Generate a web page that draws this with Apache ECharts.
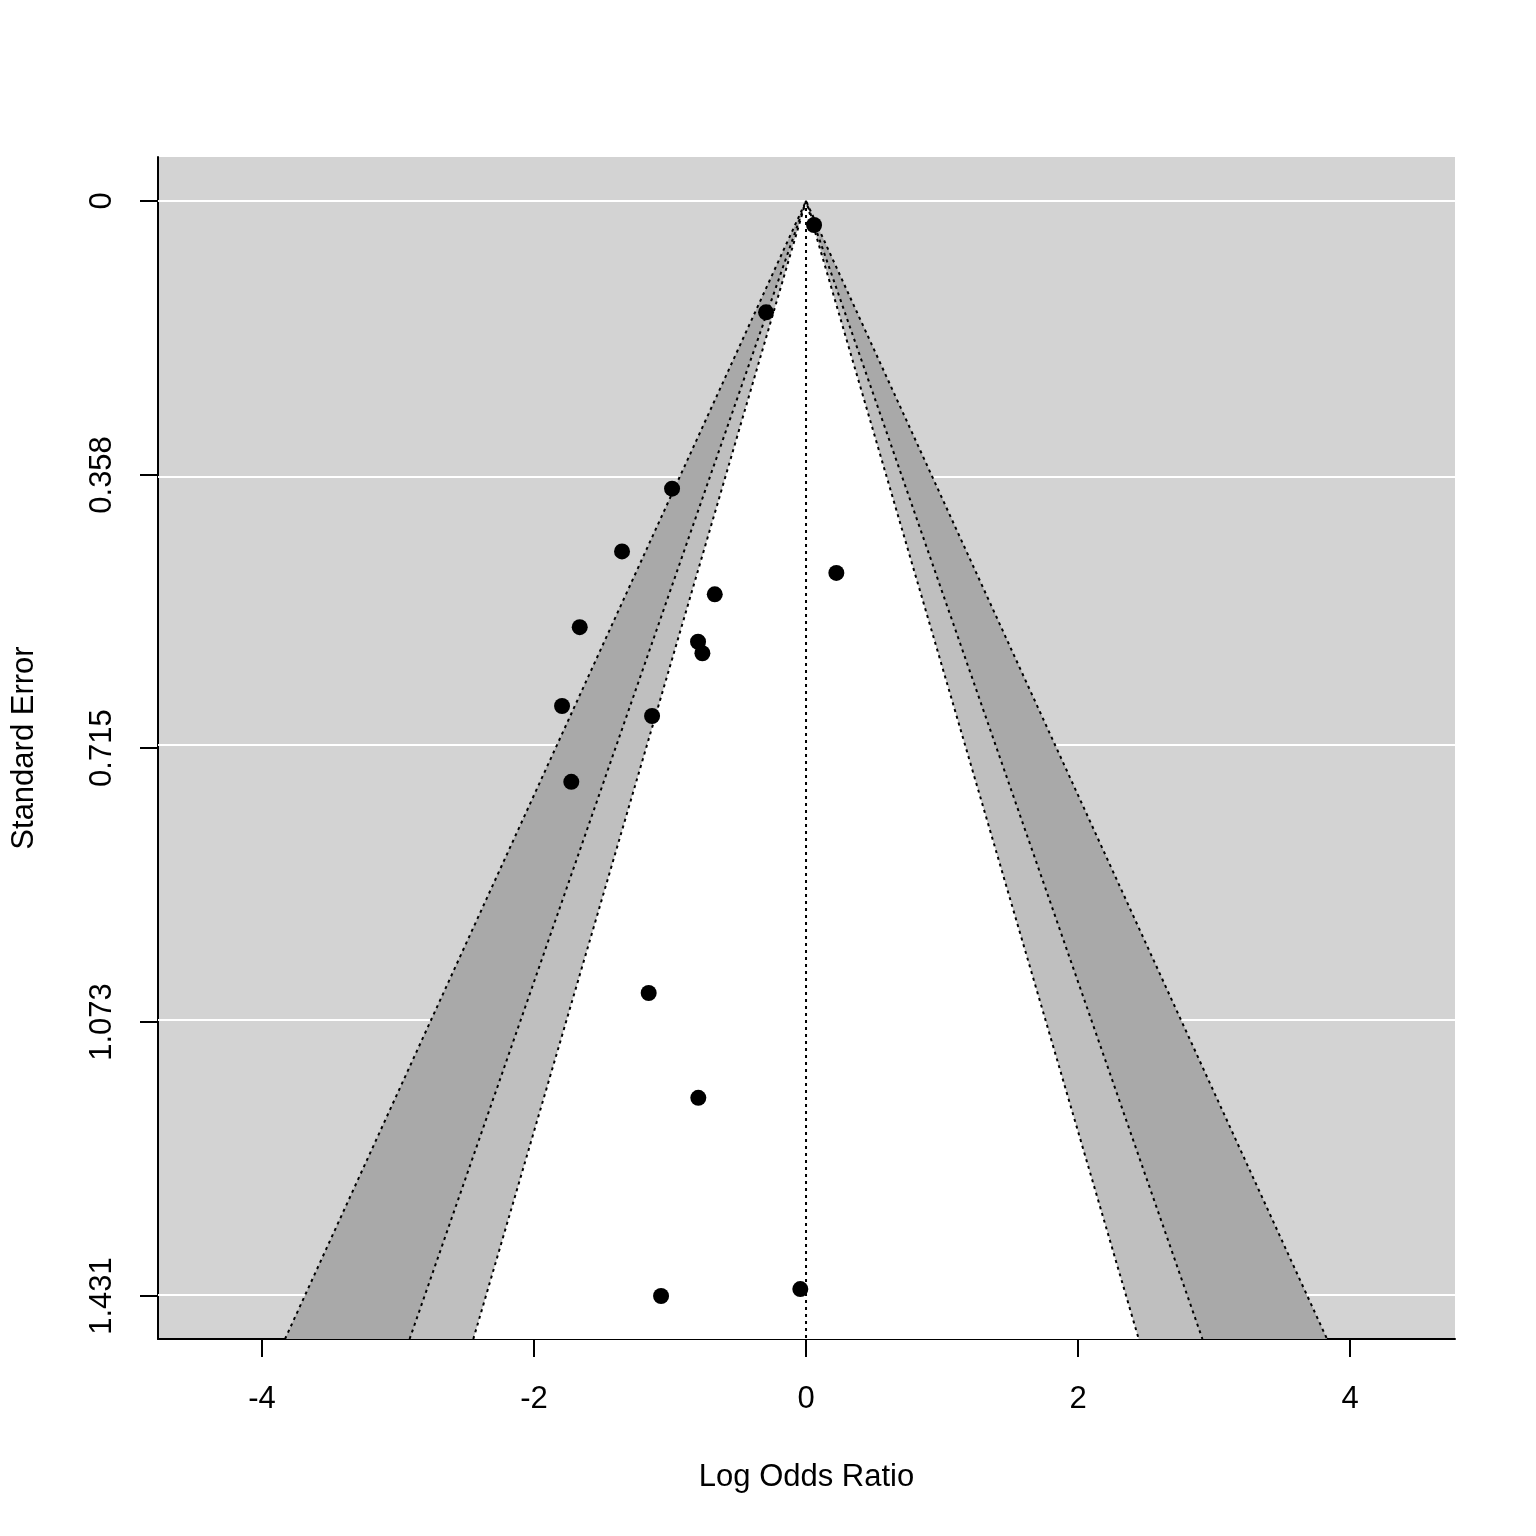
<!DOCTYPE html>
<html>
<head>
<meta charset="utf-8">
<title>Funnel plot</title>
<script src="https://cdn.jsdelivr.net/npm/echarts@6/dist/echarts.min.js"></script>
<style>
  html, body { margin: 0; padding: 0; background: #fff; }
  #funnel { width: 1536px; height: 1536px; }
</style>
</head>
<body>
<div id="funnel"></div>
<script>
// study estimates (log odds ratio) and their standard errors
var logOdds = [0.059, -0.294, -0.985, -1.353, 0.223, -0.671, -1.664, -0.794, -0.762, -1.794, -1.132, -1.726, -1.157, -0.792, -0.042, -1.066];
var stdErr = [0.0314, 0.1455, 0.376, 0.458, 0.486, 0.514, 0.557, 0.576, 0.591, 0.660, 0.673, 0.759, 1.035, 1.172, 1.422, 1.431];

// tick labels
var xTicks = [-4, -2, 0, 2, 4];
var yTicks = [0, 0.358, 0.715, 1.073, 1.431];

// contour levels (z for 99%, 95%, 90%) and their fills
var contourZ = [2.576, 1.96, 1.645];
var contourFill = ["#a9a9a9", "#bfbfbf", "#ffffff"];

var seMax = 1.4872;
var font = "Liberation Sans, Arial, Helvetica, sans-serif";

var myChart = echarts.init(document.getElementById("funnel"), null, { renderer: "canvas" });

var points = logOdds.map(function (v, i) { return [v, stdErr[i]]; });

var series = [];

// white reference lines at y ticks (under the funnel)
series.push({
  type: "line",
  data: [],
  z: 1,
  silent: true,
  markLine: {
    z: 1,
    silent: true,
    symbol: "none",
    label: { show: false },
    lineStyle: { color: "#ffffff", width: 2, type: "solid" },
    data: yTicks.map(function (t) { return { yAxis: t }; }),
  },
});

// shaded funnel regions
series.push({
  type: "custom",
  z: 2,
  silent: true,
  clip: true,
  data: contourZ.map(function (z, i) { return [z, i]; }),
  renderItem: function (params, api) {
    var z = api.value(0);
    var idx = api.value(1);
    var apex = api.coord([0, 0]);
    var left = api.coord([-z * seMax, seMax]);
    var right = api.coord([z * seMax, seMax]);
    return {
      type: "polygon",
      shape: { points: [apex, left, right] },
      style: { fill: contourFill[idx], stroke: null },
    };
  },
});

// dotted contour edges
contourZ.forEach(function (z) {
  series.push({
    type: "line",
    z: 3,
    silent: true,
    symbol: "none",
    data: [[-z * seMax, seMax], [0, 0], [z * seMax, seMax]],
    lineStyle: { color: "#000", width: 2, type: [3, 4] },
  });
});

// vertical dotted line at 0
series.push({
  type: "line",
  z: 3,
  silent: true,
  symbol: "none",
  data: [[0, 0], [0, seMax]],
  lineStyle: { color: "#000", width: 2, type: [3, 4] },
});

// studies
series.push({
  type: "scatter",
  z: 6,
  symbol: "circle",
  symbolSize: 16,
  clip: false,
  itemStyle: { color: "#000", opacity: 1 },
  data: points,
});

var option = {
  backgroundColor: "#ffffff",
  animation: false,
  grid: {
    left: 158,
    right: 81,
    top: 157,
    bottom: 197,
    show: true,
    backgroundColor: "#d3d3d3",
    borderWidth: 0,
  },
  xAxis: {
    type: "value",
    min: -4.765,
    max: 4.772,
    name: "Log Odds Ratio",
    nameLocation: "middle",
    nameGap: 123,
    nameTextStyle: { fontFamily: font, fontSize: 31, color: "#000" },
    axisLine: { show: true, onZero: false, lineStyle: { color: "#000", width: 2 } },
    axisTick: {
      show: true,
      length: 18,
      lineStyle: { color: "#000", width: 2 },
      customValues: xTicks,
    },
    axisLabel: {
      show: true,
      margin: 45,
      fontFamily: font,
      fontSize: 31,
      color: "#000",
      customValues: xTicks,
      formatter: function (v) { return String(v); },
    },
    splitLine: { show: false },
  },
  yAxis: {
    type: "value",
    inverse: true,
    min: -0.0575,
    max: seMax,
    name: "Standard Error",
    nameLocation: "middle",
    nameGap: 118,
    nameRotate: 90,
    nameTextStyle: { fontFamily: font, fontSize: 31, color: "#000" },
    axisLine: { show: true, onZero: false, lineStyle: { color: "#000", width: 2 } },
    axisTick: {
      show: true,
      length: 18,
      lineStyle: { color: "#000", width: 2 },
      customValues: yTicks,
    },
    axisLabel: {
      show: true,
      rotate: 90,
      margin: 40,
      fontFamily: font,
      fontSize: 31,
      color: "#000",
      customValues: yTicks,
      formatter: function (v) { return v === 0 ? "0" : v.toFixed(3); },
    },
    splitLine: { show: false },
  },
  series: series,
};

myChart.setOption(option);
window.addEventListener("resize", function () {
  myChart.resize();
});
</script>
</body>
</html>
